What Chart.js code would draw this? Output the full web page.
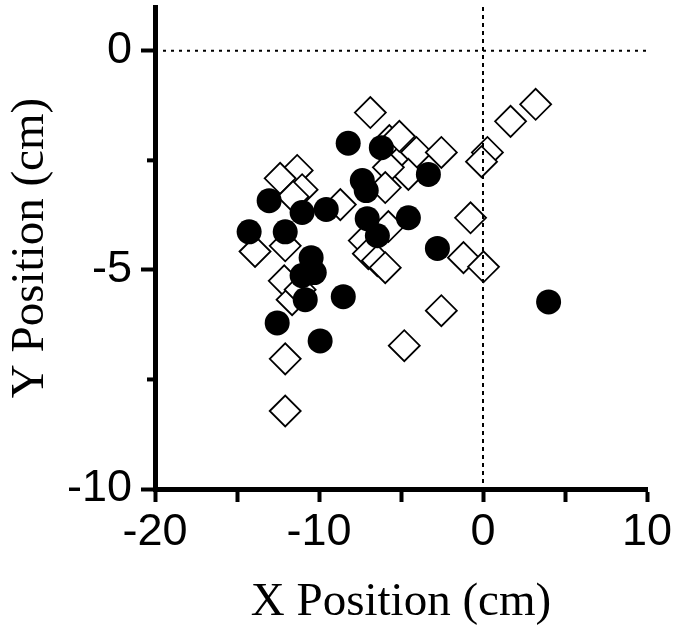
<!DOCTYPE html>
<html>
<head>
<meta charset="utf-8">
<script src="https://cdn.jsdelivr.net/npm/chart.js@4/dist/chart.umd.min.js"></script>
<style>
  html, body { margin: 0; padding: 0; background: #fff; }
  #wrap { width: 675px; height: 641px; }
</style>
</head>
<body>
<div id="wrap"><canvas id="c" width="675" height="641"></canvas></div>
<script>
// ---- data ----
const filledX = [-14.26,-13.04,-12.06,-11.03,-12.55,-10.84,-11.03,-10.48,-10.29,-9.93,-9.56,-8.52,-8.22,-7.36,-7.12,-7.06,-6.44,-6.20,-4.55,-3.33,-2.78,4.00];
const filledY = [-4.13,-3.42,-4.13,-3.69,-6.21,-5.68,-5.13,-4.72,-5.06,-6.62,-3.62,-5.61,-2.11,-2.96,-3.19,-3.83,-4.22,-2.21,-3.81,-2.82,-4.51,-5.73];

const openX = [-6.87,-5.71,-5.10,-4.06,-2.54,0.27,-0.09,1.68,3.21,-4.55,-5.77,-5.96,-11.33,-12.37,-11.03,-11.58,-8.70,-0.76,-5.77,-7.24,-6.99,-6.44,-5.96,-1.19,0.03,-2.54,-4.80,-13.90,-12.06,-12.12,-11.64,-11.15,-12.06,-12.06];
const openY = [-1.41,-2.05,-1.95,-2.32,-2.32,-2.32,-2.53,-1.61,-1.22,-2.82,-2.66,-3.12,-2.73,-2.91,-3.17,-3.33,-3.51,-3.81,-4.01,-4.33,-4.63,-4.79,-4.95,-4.72,-4.93,-5.93,-6.73,-4.58,-4.45,-5.25,-5.68,-5.45,-7.03,-8.22];

const xTickValues = [-20,-15,-10,-5,0,5,10];
const xTickLabelled = [-20,-10,0,10];
const yTickValues = [-10,-7.5,-5,-2.5,0];
const yTickLabelled = [0,-5,-10];
const xRange = [-20, 10];
const yRange = [-10, 1];
const hRefLine = [{x: -20, y: 0}, {x: 10, y: 0}];
const vRefLine = [{x: 0, y: 1}, {x: 0, y: -10}];

const zip = (xs, ys) => xs.map((x, i) => ({x: x, y: ys[i]}));

// minor (unlabelled) y ticks drawn shorter
const minorTicks = {
  id: 'minorTicks',
  afterDraw(chart) {
    const ys = chart.scales.y;
    const ctx = chart.ctx;
    const left = chart.chartArea.left;
    ctx.save();
    ctx.strokeStyle = '#000';
    ctx.lineWidth = 4;
    yTickValues.filter(v => !yTickLabelled.includes(v)).forEach(v => {
      const p = ys.getPixelForValue(v);
      ctx.beginPath();
      ctx.moveTo(left - 8, p);
      ctx.lineTo(left, p);
      ctx.stroke();
    });
    ctx.restore();
  }
};

new Chart(document.getElementById('c'), {
  type: 'scatter',
  data: {
    datasets: [
      {
        label: 'h', data: hRefLine, showLine: true, pointRadius: 0,
        borderColor: '#000', borderWidth: 2, borderDash: [3, 5], order: 0
      },
      {
        label: 'v', data: vRefLine, showLine: true, pointRadius: 0,
        borderColor: '#000', borderWidth: 2, borderDash: [4, 4], order: 0
      },
      {
        label: 'filled', data: zip(filledX, filledY), pointStyle: 'circle',
        pointRadius: 12.5, backgroundColor: '#000', borderColor: '#000', borderWidth: 0, order: 1
      },
      {
        label: 'open', data: zip(openX, openY), pointStyle: 'rectRot',
        pointRadius: 15.5, backgroundColor: '#fff', borderColor: '#000', borderWidth: 1.8, order: 2
      }
    ]
  },
  options: {
    responsive: false,
    animation: false,
    devicePixelRatio: 1,
    layout: { autoPadding: false, padding: { top: 7, right: 28, left: 0, bottom: 0 } },
    plugins: { legend: { display: false }, tooltip: { enabled: false } },
    scales: {
      x: {
        type: 'linear', min: xRange[0], max: xRange[1],
        afterBuildTicks: s => { s.ticks = xTickValues.map(v => ({value: v})); },
        afterFit: s => { s.height = 152; s.paddingLeft = 0; s.paddingRight = 0; },
        grid: { drawOnChartArea: false, drawTicks: true, tickLength: 13, tickWidth: 4, tickColor: '#000' },
        border: { display: true, color: '#000', width: 5 },
        ticks: {
          color: '#000', padding: 4, maxRotation: 0, autoSkip: false,
          font: { family: '"Liberation Sans", Arial, sans-serif', size: 45 },
          callback: v => xTickLabelled.includes(v) ? String(v) : ''
        },
        title: {
          display: true, text: 'X Position (cm)', color: '#000',
          font: { family: '"Liberation Serif", "Times New Roman", serif', size: 47 },
          padding: { top: 0, bottom: 10 }
        }
      },
      y: {
        type: 'linear', min: yRange[0], max: yRange[1],
        afterBuildTicks: s => { s.ticks = yTickValues.map(v => ({value: v})); },
        afterFit: s => { s.width = 155; s.paddingTop = 0; s.paddingBottom = 0; },
        grid: {
          drawOnChartArea: false, drawTicks: true, tickLength: 14, tickWidth: 4,
          tickColor: ctx => (ctx.tick && yTickLabelled.includes(ctx.tick.value)) ? '#000' : 'rgba(0,0,0,0)'
        },
        border: { display: true, color: '#000', width: 5 },
        ticks: {
          color: '#000', padding: 9, autoSkip: false,
          font: { family: '"Liberation Sans", Arial, sans-serif', size: 45 },
          callback: v => yTickLabelled.includes(v) ? String(v) : ''
        },
        title: {
          display: true, text: 'Y Position (cm)', color: '#000',
          font: { family: '"Liberation Serif", "Times New Roman", serif', size: 47 },
          padding: { top: 2, bottom: 0 }
        }
      }
    }
  },
  plugins: [minorTicks]
});
</script>
</body>
</html>
